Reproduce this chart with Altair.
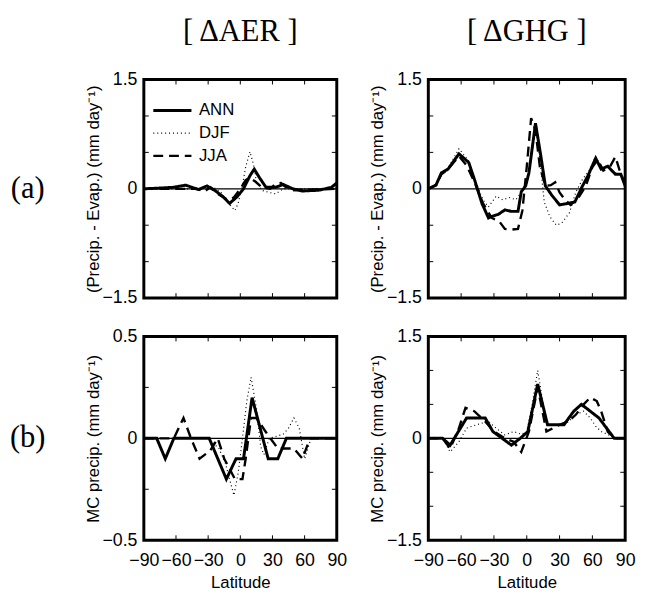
import altair as alt
import pandas as pd

SERIES = ["ANN", "DJF", "JJA"]
XTICKS = [-90, -60, -30, 0, 30, 60, 90]

# ---------- (a) P-E, dAER ----------
aer_pe_ann_lat = [-90, -75, -63, -51, -39, -31, -24, -16, -10, -3, 3, 9, 13, 18, 24, 33, 40, 49, 58, 73, 85, 90]
aer_pe_ann_val = [0, 0.01, 0.02, 0.05, -0.01, 0.04, -0.02, -0.11, -0.2, -0.11, 0, 0.18, 0.27, 0.15, 0.02, 0.02, 0.06, 0, -0.03, -0.02, 0.02, 0.08]
aer_pe_djf_lat = [-90, -40, -25, -18, -12, -5, -2, 2, 5, 9, 12, 15, 20, 27, 33, 40, 90]
aer_pe_djf_val = [0, 0, 0.02, -0.05, -0.18, -0.3, -0.2, 0.05, 0.3, 0.51, 0.35, 0.1, -0.02, -0.05, -0.07, 0, 0]
aer_pe_jja_lat = [-90, -40, -34, -28, -20, -12, -6, 0, 5, 9, 14, 20, 28, 33, 38, 42, 50, 90]
aer_pe_jja_val = [0, 0, -0.04, 0.02, -0.08, -0.15, -0.12, 0, 0.12, 0.15, 0.1, 0.02, 0, 0.07, 0.08, 0.03, -0.02, 0]

# ---------- (a) P-E, dGHG ----------
ghg_pe_ann_lat = [-90, -83, -78, -72, -62, -53, -47, -41, -35, -32, -26, -20, -14, -8, -5, -1, 2, 8, 13, 17, 23, 30, 38, 44, 51, 56, 63, 68, 74, 81, 86, 90]
ghg_pe_ann_val = [0, 0.05, 0.22, 0.27, 0.48, 0.36, 0.09, -0.2, -0.4, -0.38, -0.35, -0.29, -0.31, -0.31, -0.04, 0.04, 0.22, 0.9, 0.44, 0.04, -0.09, -0.22, -0.2, -0.18, 0.04, 0.18, 0.42, 0.27, 0.31, 0.2, 0.2, 0.04]
ghg_pe_djf_lat = [-90, -83, -78, -72, -62, -53, -47, -40, -35, -28, -22, -16, -10, -5, 0, 3, 8, 12, 16, 21, 27, 32, 39, 45, 51, 57, 63, 68, 74, 81, 87, 90]
ghg_pe_djf_val = [0, 0.05, 0.2, 0.28, 0.55, 0.38, 0.1, -0.15, -0.25, -0.1, -0.15, -0.12, -0.15, -0.05, 0.05, 0.3, 0.88, 0.4, -0.18, -0.38, -0.5, -0.47, -0.33, -0.04, 0.13, 0.25, 0.44, 0.3, 0.3, 0.22, 0.18, 0.05]
ghg_pe_jja_lat = [-90, -83, -78, -72, -62, -55, -48, -40, -32, -25, -20, -14, -8, -4, 0, 4, 8, 12, 17, 22, 26, 30, 35, 40, 47, 54, 60, 65, 70, 76, 81, 85, 90]
ghg_pe_jja_val = [0, 0.05, 0.2, 0.27, 0.45, 0.32, 0.1, -0.2, -0.4, -0.45, -0.55, -0.56, -0.55, -0.3, 0.3, 0.97, 0.8, 0.3, 0.04, 0.05, 0.09, -0.05, -0.15, -0.22, -0.13, 0.04, 0.3, 0.4, 0.25, 0.3, 0.44, 0.25, 0.05]

# ---------- (b) MC precip, dAER ----------
aer_mc_ann_lat = [-90, -78, -70, -62, -29, -13, -4, 3, 11, 26, 35, 43, 90]
aer_mc_ann_val = [0, 0, -0.1, 0, 0, -0.2, -0.1, -0.1, 0.2, -0.1, -0.1, 0, 0]
aer_mc_djf_lat = [-90, -30, -20, -14, -6, -2, 2, 6, 10, 15, 19, 22, 27, 40, 45, 50, 55, 60, 66, 90]
aer_mc_djf_val = [0, 0, -0.05, -0.12, -0.28, -0.17, 0, 0.18, 0.3, 0.15, -0.04, -0.08, 0, 0.02, 0.05, 0.1, 0.05, -0.1, 0, 0]
aer_mc_jja_lat = [-90, -62, -53, -46, -38, -28, -21, -15, -5, 2, 5, 10, 15, 24, 35, 44, 50, 58, 65, 90]
aer_mc_jja_val = [0, 0, 0.1, 0, -0.1, -0.06, 0, -0.1, -0.2, -0.2, -0.1, 0.1, 0.1, 0.03, -0.05, -0.05, -0.05, -0.1, 0, 0]

# ---------- (b) MC precip, dGHG ----------
ghg_mc_ann_lat = [-90, -77, -70, -55, -38, -31, -14, -6, 1, 10, 19, 34, 43, 50, 66, 80, 90]
ghg_mc_ann_val = [0, 0, -0.1, 0.3, 0.3, 0.1, -0.1, 0, 0.1, 0.8, 0.2, 0.2, 0.4, 0.5, 0.3, 0, 0]
ghg_mc_djf_lat = [-90, -77, -70, -62, -55, -46, -35, -28, -20, -12, -5, 0, 5, 10, 16, 20, 35, 45, 52, 58, 63, 68, 75, 82, 90]
ghg_mc_djf_val = [0, 0, -0.2, -0.05, 0.15, 0.2, 0.25, 0.15, 0.05, 0.1, 0.06, 0.1, 0.5, 1.0, 0.4, 0.2, 0.2, 0.35, 0.4, 0.3, 0.18, 0.1, 0.05, 0, 0]
ghg_mc_jja_lat = [-90, -77, -70, -62, -56, -48, -38, -30, -20, -12, -5, 2, 10, 18, 30, 38, 45, 52, 58, 64, 68, 74, 80, 90]
ghg_mc_jja_val = [0, 0, -0.15, 0.15, 0.45, 0.4, 0.25, 0.1, 0, -0.05, -0.2, 0.1, 0.75, 0.1, 0.2, 0.25, 0.35, 0.5, 0.6, 0.55, 0.4, 0.1, 0, 0]

SANS = "Liberation Sans"
SERIF = "Liberation Serif"
LABEL_EXPR = "replace(toString(datum.value), '-', '\u2212')"


def long_df(ann, djf, jja):
    rows = []
    for name, (la, va) in zip(SERIES, [ann, djf, jja]):
        for x, y in zip(la, va):
            rows.append({"lat": x, "val": y, "series": name})
    return pd.DataFrame(rows)


def panel(df, ylim, ymajor, yminor, xlabels, ytitle, w, h, title=None, legend=False, rowlab=None):
    xaxis = alt.Axis(values=XTICKS, labels=xlabels, title="Latitude" if xlabels else None,
                     ticks=False, domain=False, grid=False, labelFontSize=18, labelFont=SANS,
                     labelColor="black", labelOverlap=False, labelFlush=False, labelPadding=12,
                     labelExpr=LABEL_EXPR,
                     titleFont=SANS, titleFontSize=17, titleFontWeight="normal", titleColor="black",
                     titlePadding=5)
    yaxis = alt.Axis(values=ymajor, title=ytitle, ticks=False, domain=False, grid=False,
                     labelFontSize=18, labelFont=SANS, labelColor="black", labelPadding=7,
                     labelOverlap=False, labelFlush=False, labelExpr=LABEL_EXPR,
                     titleFont=SANS, titleFontSize=17, titleFontWeight="normal", titleColor="black",
                     titlePadding=0)
    x = alt.X("lat:Q", scale=alt.Scale(domain=[-90, 90], nice=False, zero=False), axis=xaxis)
    y = alt.Y("val:Q", scale=alt.Scale(domain=[-ylim, ylim], nice=False, zero=False), axis=yaxis)

    if legend:
        leg = alt.Legend(title=None, orient="none", legendX=8, legendY=20, symbolType="stroke",
                         symbolSize=1500, symbolStrokeColor="black", labelFont=SANS,
                         labelFontSize=17, labelColor="black", clipHeight=23, rowPadding=0,
                         labelOffset=6)
    else:
        leg = None

    lines = alt.Chart(df).mark_line(color="black", clip=True).encode(
        x=x, y=y,
        strokeDash=alt.StrokeDash("series:N", scale=alt.Scale(type="ordinal", domain=SERIES, range=[[1, 0], [1, 3], [10, 6]]), legend=leg),
        strokeWidth=alt.StrokeWidth("series:N", scale=alt.Scale(type="ordinal", domain=SERIES, range=[3, 1.2, 2.4]), legend=leg),
    )
    zero = alt.Chart(pd.DataFrame({"val": [0]})).mark_rule(color="black", strokeWidth=1.2).encode(y=y)

    yt = pd.DataFrame({"val": yminor})
    ytl = alt.Chart(yt).mark_rule(color="black", strokeWidth=1).encode(y=y, x=alt.value(0), x2=alt.value(5))
    ytr = alt.Chart(yt).mark_rule(color="black", strokeWidth=1).encode(y=y, x=alt.value(w), x2=alt.value(w - 5))
    xt = pd.DataFrame({"lat": XTICKS[1:-1]})
    xtt = alt.Chart(xt).mark_rule(color="black", strokeWidth=1).encode(x=x, y=alt.value(0), y2=alt.value(5))
    xtb = alt.Chart(xt).mark_rule(color="black", strokeWidth=1).encode(x=x, y=alt.value(h), y2=alt.value(h - 5))

    layers = [zero, ytl, ytr, xtt, xtb, lines]
    if rowlab:
        lab = alt.Chart(pd.DataFrame({"val": [0], "t": [rowlab]})).mark_text(
            font=SERIF, fontSize=31, align="center", baseline="middle", color="black"
        ).encode(x=alt.value(-118), y=y, text="t:N")
        layers.append(lab)
    if title:
        head = alt.Chart(pd.DataFrame({"t": [title]})).mark_text(
            font=SERIF, fontSize=31, align="center", baseline="middle", color="black"
        ).encode(x=alt.value(w / 2), y=alt.value(-48), text="t:N")
        layers.append(head)
    return alt.layer(*layers).properties(width=w, height=h)


pe_title = "(Precip. - Evap.) (mm day\u207b\u00b9)"
mc_title = "MC precip. (mm day\u207b\u00b9)"

p1 = panel(long_df((aer_pe_ann_lat, aer_pe_ann_val), (aer_pe_djf_lat, aer_pe_djf_val), (aer_pe_jja_lat, aer_pe_jja_val)),
           1.5, [-1.5, 0, 1.5], [-1, -0.5, 0.5, 1], False, pe_title, 196, 222,
           title="[ \u0394AER ]", legend=True, rowlab="(a)")
p2 = panel(long_df((ghg_pe_ann_lat, ghg_pe_ann_val), (ghg_pe_djf_lat, ghg_pe_djf_val), (ghg_pe_jja_lat, ghg_pe_jja_val)),
           1.5, [-1.5, 0, 1.5], [-1, -0.5, 0.5, 1], False, pe_title, 200, 222,
           title="[ \u0394GHG ]")
p3 = panel(long_df((aer_mc_ann_lat, aer_mc_ann_val), (aer_mc_djf_lat, aer_mc_djf_val), (aer_mc_jja_lat, aer_mc_jja_val)),
           0.5, [-0.5, 0, 0.5], [-0.25, 0.25], True, mc_title, 196, 207, rowlab="(b)")
p4 = panel(long_df((ghg_mc_ann_lat, ghg_mc_ann_val), (ghg_mc_djf_lat, ghg_mc_djf_val), (ghg_mc_jja_lat, ghg_mc_jja_val)),
           1.5, [-1.5, 0, 1.5], [-1, -0.5, 0.5, 1], True, mc_title, 200, 207)

chart = alt.concat(p1, p2, p3, p4, columns=2, spacing=alt.RowColnumber(row=39, column=93),
                   bounds="flush", align="each").resolve_scale(
    x="independent", y="independent", strokeDash="independent", strokeWidth="independent"
).resolve_legend(strokeDash="independent", strokeWidth="independent").configure_view(
    stroke="black", strokeWidth=3
).properties(padding={"left": 0, "top": 2, "right": 0, "bottom": 0})

chart.save("out.html", embed_options={"renderer": "svg", "actions": False})
